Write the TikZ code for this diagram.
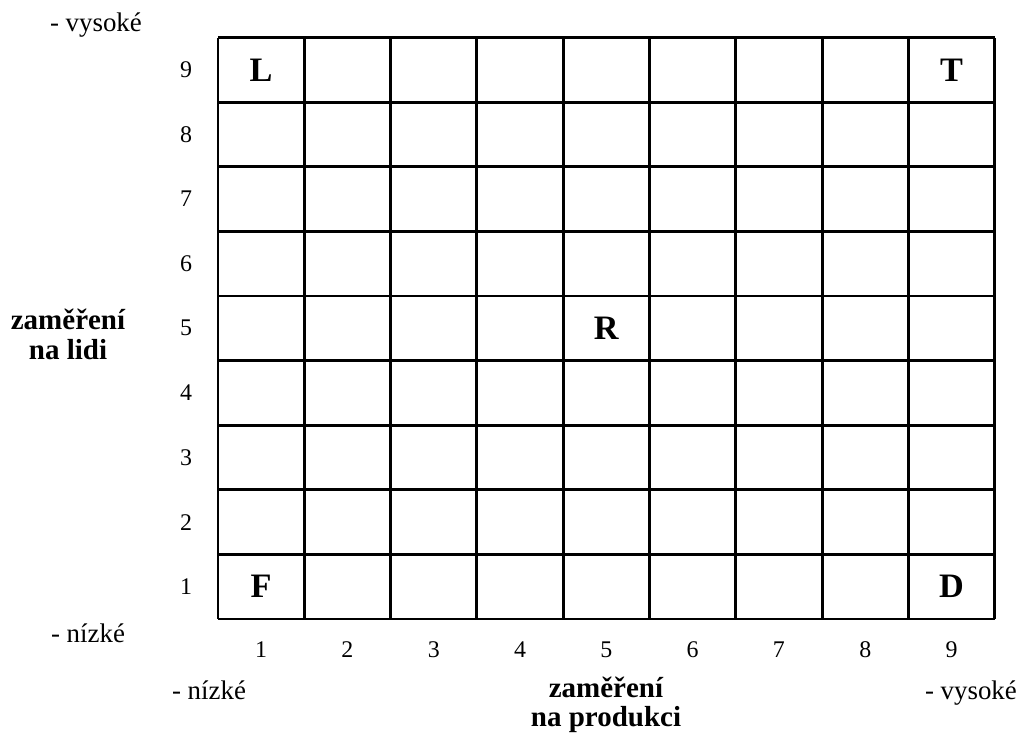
\documentclass[tikz,border=0pt]{standalone}
\usepackage{fontspec}
\setmainfont{Liberation Serif}
\usepackage{tikz}
\usetikzlibrary{positioning}

\begin{document}
\begin{tikzpicture}[
            x=1.726cm, y=1.292cm,
            gridline/.style={draw=black, line width=1.6pt},
            letter/.style={font=\fontsize{19.5}{22}\selectfont\bfseries, inner sep=0pt},
            num/.style={font=\fontsize{13.6}{16}\selectfont, inner sep=0pt},
            level/.style={font=\fontsize{15.3}{18}\selectfont, inner sep=0pt, anchor=base},
            axis/.style={font=\fontsize{16.5}{17}\selectfont\bfseries, align=center, inner sep=0pt}
        ]
            \useasboundingbox (-4.36cm,-2.64cm) rectangle (16.24cm,12.38cm);

            % the 9x9 grid
            \foreach \i in {0,...,9} {
                \draw[gridline] (\i,0) -- (\i,9);
                \draw[gridline] (0,\i) -- (9,\i);
            }

            % row and column numbers
            \foreach \n in {1,...,9} {
                \node[num] (row\n) at (-0.37,\n-0.5) {\n};
                \node[num] (col\n) at (\n-0.5,-0.48) {\n};
            }

            % styles in the grid
            \node[letter] (L) at (0.5,8.5) {L};
            \node[letter] (T) at (8.5,8.5) {T};
            \node[letter] (F) at (0.5,0.5) {F};
            \node[letter] (D) at (8.5,0.5) {D};
            \node[letter] (R) at (4.5,4.5) {R};

            % axis labels
            \node[axis] (people) at (-1.738,4.40) {zaměření\\na lidi};
            \node[axis] (product) at (4.496,-1.33) {zaměření\\na produkci};

            \node[level] (ytop) at (-1.414,9.10) {- vysoké};
            \node[level] (ybot) at (-1.506,-0.37) {- nízké};
            \node[level] (xbot) at (-0.104,-1.25) {- nízké};
            \node[level] (xtop) at (8.725,-1.25) {- vysoké};

        \end{tikzpicture}
\end{document}
